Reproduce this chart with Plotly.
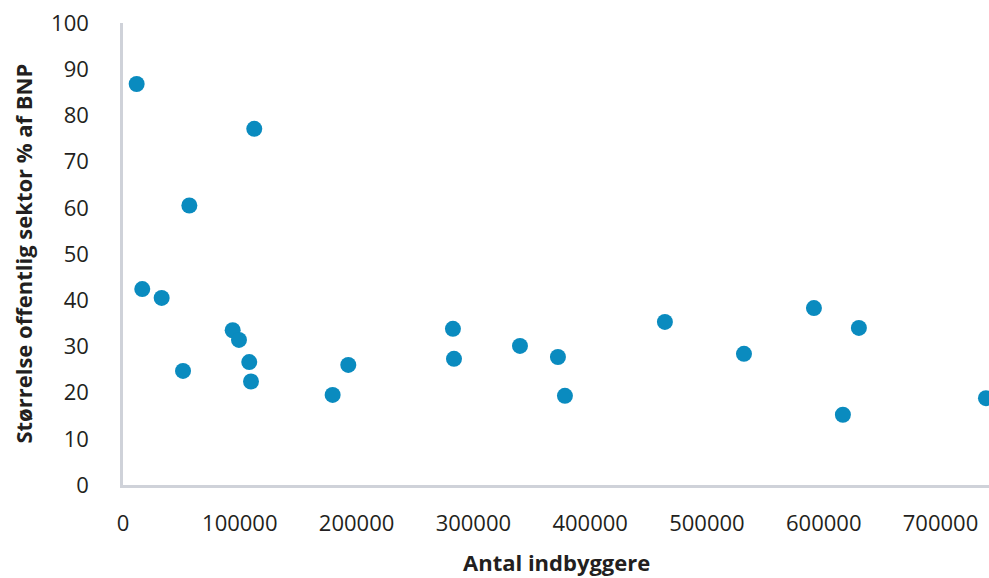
import plotly.graph_objects as go

indbyggere = [11700, 16500, 33100, 51400, 56800, 93900, 99300, 108100, 109600, 112400,
              179500, 192900, 282500, 283400, 339900, 372400, 378400, 464000, 531700,
              591600, 616400, 630100, 738900]
sektor_pct = [86.8, 42.4, 40.5, 24.7, 60.5, 33.5, 31.4, 26.6, 22.4, 77.1,
              19.5, 26.0, 33.8, 27.3, 30.1, 27.7, 19.3, 35.3, 28.4,
              38.3, 15.2, 34.0, 18.8]

x_ticks = [0, 100000, 200000, 300000, 400000, 500000, 600000, 700000]
y_ticks = [0, 10, 20, 30, 40, 50, 60, 70, 80, 90, 100]

FONT = "Open Sans"
TXT = "#231f20"

fig = go.Figure()
fig.add_trace(go.Scatter(
    x=indbyggere, y=sektor_pct, mode="markers",
    marker=dict(size=16, color="#0a8bbf", line=dict(width=0)),
    showlegend=False,
))

fig.update_layout(
    width=989, height=578,
    margin=dict(l=123, r=0, t=23, b=93),
    paper_bgcolor="white", plot_bgcolor="white",
    font=dict(family=FONT, size=22, color=TXT),
    xaxis=dict(range=[0, 741500], tickvals=x_ticks, ticktext=[str(v) for v in x_ticks],
               showgrid=False, zeroline=False, showline=True, linecolor="#cfd2d9",
               linewidth=2.5, ticks="", ticklabelstandoff=17,
               tickfont=dict(family=FONT, size=22, color=TXT)),
    yaxis=dict(range=[0, 100], tickvals=y_ticks, showgrid=False, zeroline=False,
               showline=True, linecolor="#cfd2d9", linewidth=2.5, ticks="",
               ticklabelstandoff=27, tickfont=dict(family=FONT, size=22, color=TXT)),
    annotations=[
        dict(text="<b>Antal indbyggere</b>", xref="paper", yref="paper",
             x=0.5, y=-0.167, yanchor="middle", xanchor="center", showarrow=False,
             font=dict(family=FONT, size=22, color=TXT)),
        dict(text="<b>Størrelse offentlig sektor % af BNP</b>", xref="paper", yref="paper",
             x=-0.116, y=0.5, xanchor="center", yanchor="middle", textangle=-90,
             showarrow=False, font=dict(family=FONT, size=22, color=TXT)),
    ],
)

fig.write_html(
    "out.html",
    config={"displayModeBar": False},
    post_script="document.body.style.margin='0';document.body.style.overflow='hidden';",
)
